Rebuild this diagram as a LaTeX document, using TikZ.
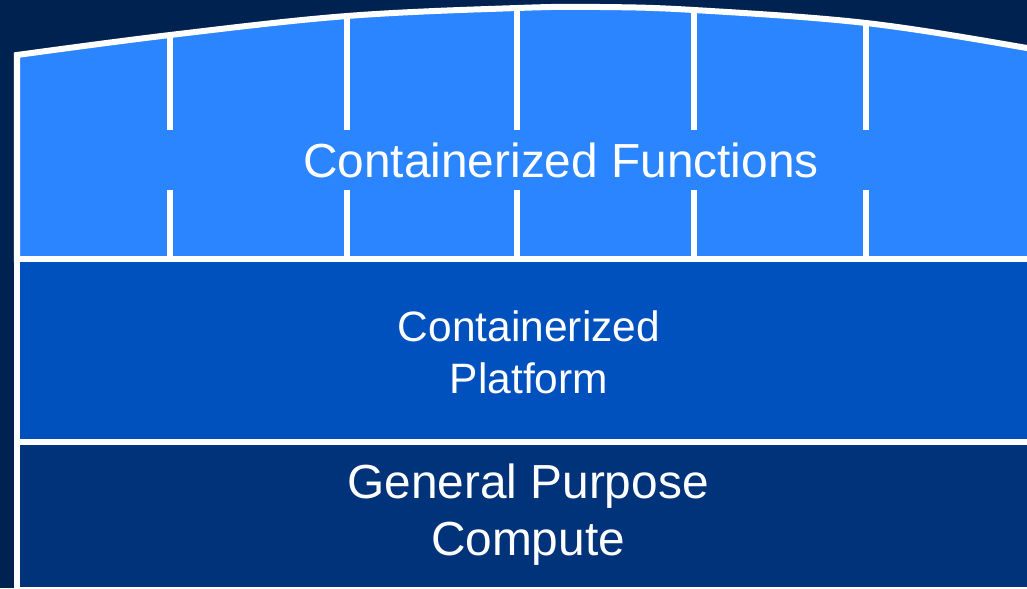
\documentclass[tikz,border=0pt]{standalone}
\usepackage{fontspec}
\setmainfont{Liberation Sans}
\definecolor{navy}{RGB}{0,34,80}
\definecolor{fnblue}{RGB}{43,133,255}
\definecolor{pfblue}{RGB}{0,81,190}
\definecolor{cpblue}{RGB}{0,51,122}

\begin{document}
\begin{tikzpicture}[x=0.025cm,y=-0.025cm,
  edge/.style={draw=white,line width=0.15cm},
  layer/.style={edge,line join=miter},
  lbl/.style={text=white,align=center,font=\fontsize{34}{40.5}\selectfont},
  lblsm/.style={lbl,font=\fontsize{30.2}{37}\selectfont}]
  \fill[navy] (0,0) rectangle (1027,588);
  \useasboundingbox (0,0) rectangle (1027,588);
  \clip (0,0) rectangle (1027,588);
  % curved roof of the top layer
  \def\roof{plot[smooth,tension=0.6] coordinates
    {(17,55) (170,35) (347,16) (517,8) (600,7) (694,10) (866,23) (1027,48) (1060,56)}}
  \fill[fnblue] \roof -- (1060,259) -- (17,259) -- cycle;
  \begin{scope}
    \clip \roof -- (1060,259) -- (17,259) -- cycle;
    \draw[edge] (170,0) -- (170,130);  \draw[edge] (170,190) -- (170,259);
    \draw[edge] (347,0) -- (347,130);  \draw[edge] (347,190) -- (347,259);
    \draw[edge] (517,0) -- (517,130);  \draw[edge] (517,190) -- (517,259);
    \draw[edge] (694,0) -- (694,130);  \draw[edge] (694,190) -- (694,259);
    \draw[edge] (866,0) -- (866,130);  \draw[edge] (866,190) -- (866,259);
  \end{scope}
  \draw[layer] \roof -- (1060,259) -- (17,259) -- cycle;
  \draw[layer,fill=pfblue] (17,259) rectangle (1060,442);
  \draw[layer,fill=cpblue] (17,442) rectangle (1060,590);
  \node[lbl]   (fn) at (561,160) {Containerized Functions};
  \node[lblsm] (pf) at (529,352) {Containerized\\Platform};
  \node[lbl]   (cp) at (528,515) {General Purpose\\Compute};
\end{tikzpicture}
\end{document}
